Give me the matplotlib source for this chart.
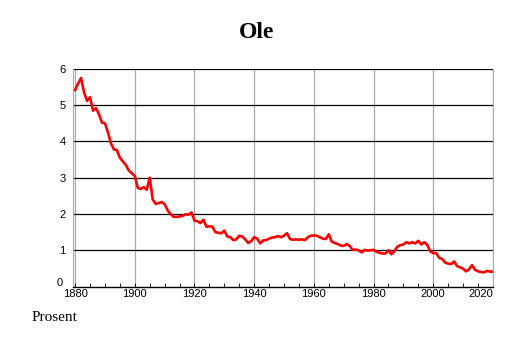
import numpy as np
import matplotlib
matplotlib.use('Agg')
import matplotlib.pyplot as plt
from matplotlib.ticker import MultipleLocator
from matplotlib.transforms import ScaledTranslation

# share of population named Ole, percent, per year
years = list(range(1880, 2021))
share = [
    5.42, 5.60, 5.75, 5.35, 5.12, 5.22, 4.85, 4.92, 4.75, 4.52,
    4.50, 4.25, 3.95, 3.78, 3.76, 3.55, 3.45, 3.35, 3.20, 3.12,
    3.05, 2.72, 2.69, 2.74, 2.67, 3.00, 2.40, 2.28, 2.30, 2.33,
    2.27, 2.10, 2.00, 1.92, 1.92, 1.93, 1.95, 1.99, 1.98, 2.04,
    1.82, 1.80, 1.75, 1.84, 1.65, 1.66, 1.65, 1.50, 1.48, 1.47,
    1.54, 1.38, 1.36, 1.28, 1.30, 1.40, 1.38, 1.30, 1.20, 1.25,
    1.36, 1.32, 1.19, 1.27, 1.28, 1.32, 1.35, 1.36, 1.39, 1.36,
    1.40, 1.47, 1.31, 1.29, 1.30, 1.29, 1.30, 1.28, 1.36, 1.40,
    1.41, 1.40, 1.36, 1.32, 1.31, 1.44, 1.24, 1.20, 1.17, 1.13,
    1.12, 1.17, 1.12, 1.01, 1.02, 1.00, 0.94, 1.01, 0.99, 1.00,
    1.01, 0.96, 0.93, 0.91, 0.91, 1.00, 0.89, 0.98, 1.10, 1.14,
    1.16, 1.22, 1.19, 1.22, 1.19, 1.26, 1.16, 1.22, 1.15, 0.97,
    0.92, 0.92, 0.79, 0.76, 0.66, 0.63, 0.62, 0.69, 0.56, 0.53,
    0.49, 0.42, 0.47, 0.59, 0.46, 0.42, 0.40, 0.39, 0.43, 0.41,
    0.41,
]
xticks = [1880, 1900, 1920, 1940, 1960, 1980, 2000, 2020]
yticks = [0, 1, 2, 3, 4, 5, 6]

fig = plt.figure(figsize=(5.14, 3.43), dpi=100)
ax = fig.add_axes([0.1415, 0.1647, 0.8175, 0.6343])

ax.plot(years, share, color='#ff0000', lw=1.9, zorder=3)

ax.set_xlim(1879.2, 2020)
ax.set_ylim(0, 6)
ax.set_xticks(xticks)
ax.set_yticks(yticks)
ax.xaxis.set_minor_locator(MultipleLocator(5))

for x in xticks:
    ax.axvline(x, color='#aaaaaa', lw=0.9, zorder=1)
for y in yticks[1:]:
    ax.axhline(y, color='black', lw=0.9, zorder=2)

ax.spines['left'].set_color('#aaaaaa')
ax.spines['right'].set_color('#aaaaaa')
ax.spines['top'].set_visible(False)
ax.spines['bottom'].set_color('black')
ax.spines['bottom'].set_linewidth(1.0)

ax.tick_params(axis='x', which='both', direction='in', length=3, width=0.6,
               pad=2, labelsize=8)
ax.tick_params(axis='y', length=0, pad=5, labelsize=8)
for lab in ax.get_xticklabels() + ax.get_yticklabels():
    lab.set_family('Liberation Sans')

# last x label sits inside the plot edge, zero label nudged up
ax.get_xticklabels()[-1].set_horizontalalignment('right')
ylab0 = ax.get_yticklabels()[0]
ylab0.set_transform(ylab0.get_transform() +
                    ScaledTranslation(-2 / 72, 3 / 72, fig.dpi_scale_trans))

fig.text(0.5, 0.905, 'Ole', ha='center', va='center', fontsize=17,
         fontweight='bold', family='Liberation Serif')
fig.text(0.062, 0.073, 'Prosent', ha='left', va='center', fontsize=11,
         family='Liberation Serif')

fig.savefig('out.png', dpi=100)
